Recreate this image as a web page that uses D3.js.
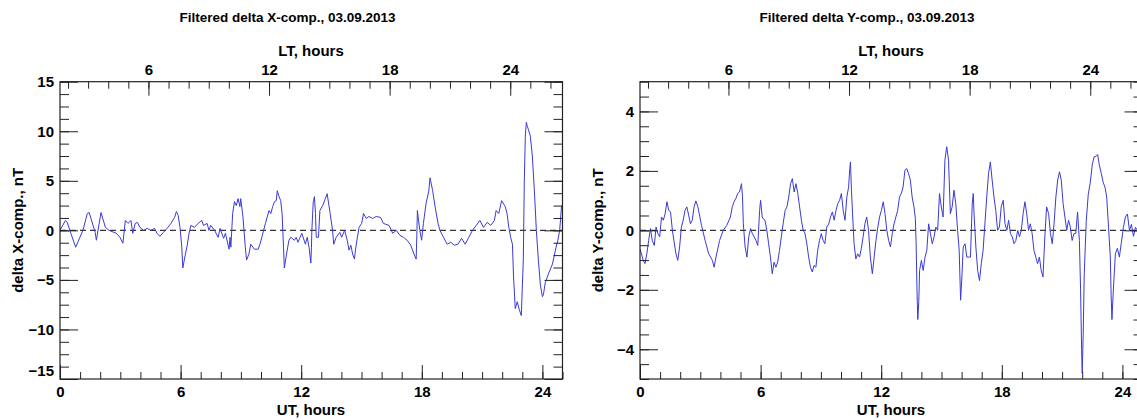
<!DOCTYPE html>
<html>
<head>
<meta charset="utf-8">
<script src="https://cdn.jsdelivr.net/npm/d3@7"></script>
<style>
  body { margin: 0; background: #fff; }
  text { font-family: Arial, "Liberation Sans", sans-serif; font-weight: bold; fill: #000; }
</style>
</head>
<body>
<svg id="chart"></svg>
<script>
  // Filtered delta X-component, [UT hour, nT]
  const xCompSamples = [[0,0],[0.27,1.0],[0.36,0.8],[0.54,-0.3],[0.78,-1.7],[0.99,-0.7],[1.14,0],[1.36,1.7],[1.45,1.8],[1.75,-0.2],[1.81,-1.0],[2.04,1.8],[2.26,0.3],[2.44,0],[2.8,-0.3],[2.98,-0.7],[3.13,-1.3],[3.25,1.0],[3.38,0.7],[3.53,1.0],[3.62,-0.3],[3.74,0.7],[3.85,0.8],[3.98,0.3],[4.16,0],[4.34,0.2],[4.52,0],[4.7,0.2],[4.83,-0.3],[4.97,-0.6],[5.15,-0.2],[5.33,0.2],[5.52,0.7],[5.7,1.3],[5.79,1.9],[5.88,1.5],[5.97,0.3],[6.06,-1.7],[6.11,-3.8],[6.24,-2.4],[6.33,-1.5],[6.42,-0.3],[6.51,0.5],[6.69,0.3],[6.87,0.7],[7.05,1.0],[7.14,0.5],[7.32,0.7],[7.41,0],[7.5,0.5],[7.69,0],[7.87,-0.7],[7.96,0.2],[8.14,-0.8],[8.23,-0.3],[8.41,-1.9],[8.46,-0.7],[8.5,-1.7],[8.59,1.7],[8.68,2.9],[8.77,2.5],[8.86,3.2],[8.95,2.4],[8.99,3.2],[9.1,1.4],[9.22,-1.7],[9.28,-3.0],[9.4,-2.4],[9.49,-1.4],[9.67,-1.9],[9.86,-1.9],[9.95,-1.4],[10.04,-0.7],[10.13,0],[10.22,0.7],[10.4,2.0],[10.49,1.7],[10.58,2.4],[10.67,2.9],[10.76,3.0],[10.81,4.0],[10.9,3.4],[10.98,3.0],[11.05,1.7],[11.12,-1.7],[11.16,-3.8],[11.27,-2.4],[11.39,-1.0],[11.48,-0.7],[11.66,-1.0],[11.75,-0.7],[11.84,-1.2],[12.03,-0.3],[12.21,-1.4],[12.3,-0.7],[12.39,-1.7],[12.48,-3.3],[12.51,-1.7],[12.53,0],[12.6,2.9],[12.66,3.4],[12.71,1.7],[12.75,-0.7],[12.86,-0.7],[12.93,2.0],[13.07,2.5],[13.2,3.2],[13.29,3.7],[13.44,1.7],[13.56,0],[13.62,-1.4],[13.74,-0.7],[13.92,-0.2],[14.01,-0.7],[14.16,0],[14.29,-1.0],[14.38,-2.0],[14.47,-1.5],[14.56,-2.4],[14.65,-2.9],[14.7,-2.0],[14.77,-1.0],[14.88,0.3],[15.01,0.7],[15.1,1.7],[15.24,1.2],[15.37,1.4],[15.55,1.2],[15.73,1.4],[15.95,1.3],[16.09,0.7],[16.37,0.5],[16.55,-0.3],[16.73,0],[16.91,-0.5],[17.09,-0.7],[17.27,-1.0],[17.45,-1.5],[17.63,-2.5],[17.72,-2.9],[17.76,0],[17.78,2.0],[17.9,0],[17.99,-1.0],[18.08,0.7],[18.21,2.7],[18.35,4.0],[18.41,5.3],[18.44,5.0],[18.54,4.0],[18.66,2.4],[18.81,0.7],[18.9,0],[19.08,-0.7],[19.26,-1.4],[19.44,-1.2],[19.62,-1.5],[19.8,-1.4],[19.98,-0.8],[20.16,-1.4],[20.34,-0.7],[20.52,0],[20.71,0.5],[20.89,1.0],[21.07,0.3],[21.25,0.8],[21.43,0.5],[21.61,1.0],[21.7,2.0],[21.83,1.7],[21.97,3.0],[22.15,2.4],[22.24,1.7],[22.33,0.3],[22.42,-0.7],[22.51,-1.4],[22.56,-4.5],[22.65,-7.9],[22.75,-7.2],[22.85,-8.0],[22.95,-8.6],[23.05,-3.0],[23.1,5.0],[23.15,9.5],[23.2,10.9],[23.25,10.5],[23.3,10.2],[23.4,9.5],[23.5,7.5],[23.6,4.0],[23.7,0],[23.8,-3.0],[23.9,-5.5],[24.0,-6.7],[24.05,-6.5],[24.14,-5.3],[24.3,-4.4],[24.5,-3.4],[24.68,-1.7],[24.77,-1.0],[24.86,0],[24.95,2.4],[25.0,2.6]];

  // Filtered delta Y-component, [UT hour, nT]
  const yCompSamples = [[0,-0.62],[0.07,-0.79],[0.16,-1.01],[0.25,-1.12],[0.34,-0.79],[0.43,-0.34],[0.52,0.06],[0.61,-0.34],[0.71,-0.51],[0.8,0.11],[0.89,-0.11],[0.98,-0.22],[1.07,0.45],[1.16,0.34],[1.25,0.56],[1.34,0.96],[1.43,0.67],[1.52,0.62],[1.61,0],[1.79,-0.79],[1.88,-1.01],[1.97,-0.56],[2.06,0.11],[2.15,0.34],[2.24,0.67],[2.33,0.79],[2.42,0.51],[2.51,0.22],[2.6,0.34],[2.69,0.79],[2.78,0.99],[2.88,0.79],[3.06,0.17],[3.24,-0.34],[3.42,-0.79],[3.6,-1.01],[3.69,-1.24],[3.78,-0.9],[3.96,-0.34],[4.14,0],[4.32,0.17],[4.5,0.45],[4.59,0.79],[4.68,0.96],[4.77,1.07],[4.86,1.24],[4.95,1.29],[5.05,1.57],[5.1,1.12],[5.14,0.22],[5.23,-0.56],[5.32,-0.9],[5.41,-0.22],[5.5,0.06],[5.59,-0.11],[5.68,-0.22],[5.77,-0.34],[5.86,-0.51],[5.95,0.67],[6.0,1.01],[6.08,0.45],[6.13,0.39],[6.22,0.34],[6.31,0],[6.4,-0.45],[6.49,-0.9],[6.58,-1.46],[6.67,-1.07],[6.76,-1.24],[6.85,-1.07],[6.94,-0.67],[7.03,-0.22],[7.12,0.22],[7.22,0.67],[7.31,0.79],[7.4,1.12],[7.49,1.57],[7.58,1.74],[7.67,1.29],[7.76,1.57],[7.85,1.24],[7.94,0.79],[8.03,0.34],[8.12,0],[8.21,-0.11],[8.3,-0.45],[8.39,-0.9],[8.48,-1.24],[8.57,-1.4],[8.66,-1.18],[8.75,-1.24],[8.84,-0.67],[8.93,-0.34],[9.02,-0.11],[9.11,-0.34],[9.2,-0.45],[9.29,0.11],[9.39,0.22],[9.48,0.45],[9.57,0.62],[9.66,0.34],[9.75,0.67],[9.84,0.9],[9.93,1.01],[10.02,1.24],[10.11,0.67],[10.2,0.34],[10.29,1.12],[10.38,1.46],[10.43,2.02],[10.47,2.3],[10.52,1.35],[10.6,0.22],[10.65,-0.45],[10.74,-0.96],[10.83,-0.79],[10.92,-0.9],[11.01,-0.62],[11.1,-0.22],[11.19,0.22],[11.28,0.45],[11.37,0],[11.46,-0.9],[11.56,-1.46],[11.65,-0.9],[11.74,-0.34],[11.83,0.11],[11.92,0.45],[12.01,0.67],[12.1,0.96],[12.19,0.56],[12.28,0],[12.37,-0.34],[12.46,-0.56],[12.55,-0.11],[12.64,0.22],[12.73,0.45],[12.82,0.67],[12.91,1.12],[13.0,1.24],[13.09,1.46],[13.18,2.02],[13.27,2.08],[13.36,1.91],[13.45,1.69],[13.54,1.12],[13.63,0.79],[13.7,0.4],[13.74,-0.5],[13.78,-2.0],[13.82,-3.0],[13.87,-2.4],[13.91,-1.35],[14.0,-1.01],[14.09,-1.35],[14.18,-0.9],[14.27,-0.67],[14.36,0.22],[14.45,-0.11],[14.54,-0.45],[14.63,-0.22],[14.72,0.11],[14.81,0],[14.9,1.24],[14.99,0.79],[15.08,0.45],[15.17,2.36],[15.26,2.81],[15.35,2.36],[15.44,0.56],[15.53,0.79],[15.62,1.35],[15.71,0.9],[15.8,0],[15.88,-0.67],[15.95,-2.35],[16.02,-1.5],[16.08,-0.56],[16.17,-0.45],[16.26,-0.9],[16.35,-0.9],[16.44,-0.9],[16.53,0.9],[16.58,1.24],[16.62,0.56],[16.71,-0.56],[16.8,-1.35],[16.89,-1.69],[16.98,-1.12],[17.07,-0.67],[17.16,0.22],[17.25,1.12],[17.34,1.91],[17.43,2.3],[17.52,1.69],[17.61,1.12],[17.7,0.67],[17.79,0],[17.88,0.11],[17.97,0.79],[18.07,1.01],[18.16,0.22],[18.25,0],[18.34,0.34],[18.43,-0.11],[18.52,-0.22],[18.61,-0.45],[18.7,-0.34],[18.79,0],[18.88,-0.22],[18.97,0],[19.06,0.56],[19.15,0.96],[19.24,0.56],[19.33,0],[19.42,0.22],[19.51,-0.11],[19.6,-0.67],[19.69,-0.9],[19.78,-1.12],[19.87,-0.9],[19.96,-1.35],[20.05,-1.57],[20.14,-0.22],[20.23,0.79],[20.33,0.56],[20.42,-0.11],[20.51,-0.45],[20.6,0.22],[20.69,1.12],[20.78,1.69],[20.87,1.97],[20.96,1.69],[21.05,0.9],[21.14,0.45],[21.23,0],[21.32,0.34],[21.41,0.11],[21.5,-0.34],[21.59,-0.11],[21.68,-0.11],[21.77,0.62],[21.86,-0.34],[21.92,-2.0],[21.97,-4.0],[22.0,-4.8],[22.05,-3.5],[22.1,-1.5],[22.2,0.3],[22.3,1.2],[22.4,1.6],[22.5,2.2],[22.59,2.47],[22.7,2.5],[22.77,2.55],[22.85,2.2],[22.95,1.91],[23.05,1.6],[23.13,1.46],[23.22,1.12],[23.31,0.11],[23.4,-0.9],[23.44,-2.2],[23.48,-3.0],[23.55,-2.0],[23.65,-0.8],[23.75,-0.6],[23.85,-0.9],[23.95,-0.4],[24.05,0.1],[24.15,0.45],[24.25,0.55],[24.35,0.0],[24.45,0.2],[24.55,-0.2],[24.65,0.1],[24.75,0],[24.85,-0.3],[24.95,0]];

  // Axis ticks
  const utTicks = [0, 6, 12, 18, 24];
  const utMinor = d3.range(0, 26, 1);
  const ltTicks = [6, 12, 18, 24];
  const ltMinor = d3.range(2, 27, 1);
  const ltOffset = 1.6;   // LT = UT + 1.6 h
  const xCompTicks = [-15, -10, -5, 0, 5, 10, 15];
  const xCompMinor = d3.range(-15, 15.01, 1.25);
  const yCompTicks = [-4, -2, 0, 2, 4];
  const yCompMinor = d3.range(-5, 5.01, 0.5);

  const width = 1137, height = 420;
  const svg = d3.select("#chart").attr("width", width).attr("height", height);

  function drawPanel(p) {
    const top = 81.7, bottom = 379;
    const x = d3.scaleLinear().domain([0, 25]).range([p.left, p.left + 502.5]);
    const lt = d3.scaleLinear().domain([ltOffset, 25 + ltOffset]).range(x.range());
    const y = d3.scaleLinear().domain(p.domain).range([bottom, top]);
    const g = svg.append("g");
    const axisStyle = sel => sel.attr("font-family", null).attr("font-size", 15).attr("color", "#222");

    // clip for trace
    const clipId = "clip" + p.left;
    svg.append("clipPath").attr("id", clipId).append("rect")
      .attr("x", p.left).attr("y", top).attr("width", 502.5).attr("height", bottom - top);

    // zero line
    g.append("line")
      .attr("x1", x(0)).attr("x2", x(25)).attr("y1", y(0)).attr("y2", y(0))
      .attr("stroke", "#333").attr("stroke-width", 1.2).attr("stroke-dasharray", "6,4");

    // trace
    g.append("path")
      .datum(p.samples)
      .attr("clip-path", `url(#${clipId})`)
      .attr("fill", "none")
      .attr("stroke", "#3a3ad6")
      .attr("stroke-width", 1)
      .attr("d", d3.line().x(d => x(d[0])).y(d => y(d[1])));

    // bottom UT axis
    g.append("g").attr("transform", `translate(0,${bottom})`)
      .call(d3.axisBottom(x).tickValues(utMinor).tickSizeInner(-7).tickSizeOuter(0).tickFormat(""))
      .call(s => s.select(".domain").remove()).call(axisStyle);
    g.append("g").attr("transform", `translate(0,${bottom})`)
      .call(d3.axisBottom(x).tickValues(utTicks).tickSizeInner(-14).tickSizeOuter(0).tickPadding(7).tickFormat(d3.format("d")))
      .call(s => s.select(".domain").remove()).call(axisStyle);

    // top LT axis
    g.append("g").attr("transform", `translate(0,${top})`)
      .call(d3.axisTop(lt).tickValues(ltMinor).tickSizeInner(-7).tickSizeOuter(0).tickFormat(""))
      .call(s => s.select(".domain").remove()).call(axisStyle);
    g.append("g").attr("transform", `translate(0,${top})`)
      .call(d3.axisTop(lt).tickValues(ltTicks).tickSizeInner(-14).tickSizeOuter(0).tickPadding(7).tickFormat(d3.format("d")))
      .call(s => s.select(".domain").remove()).call(axisStyle);

    // left / right value axes
    [[d3.axisLeft, p.left], [d3.axisRight, p.left + 502.5]].forEach(([axisFn, pos], i) => {
      g.append("g").attr("transform", `translate(${pos},0)`)
        .call(axisFn(y).tickValues(p.minor).tickSizeInner(-9).tickSizeOuter(0).tickFormat(""))
        .call(s => s.select(".domain").remove()).call(axisStyle);
      const major = g.append("g").attr("transform", `translate(${pos},0)`)
        .call(axisFn(y).tickValues(p.ticks).tickSizeInner(-18).tickSizeOuter(0).tickPadding(6)
          .tickFormat(i === 0 ? d3.format("d") : ""))
        .call(s => s.select(".domain").remove()).call(axisStyle);
      // lowest label sits a little higher, clear of the UT labels
      major.selectAll(".tick text").filter(d => d === p.domain[0]).attr("y", -8);
    });

    // frame
    g.append("rect")
      .attr("x", p.left).attr("y", top).attr("width", 502.5).attr("height", bottom - top)
      .attr("fill", "none").attr("stroke", "#222").attr("stroke-width", 1.2);

    // titles
    const cx = p.left + 251;
    svg.append("text").attr("x", p.titleX).attr("y", 22).attr("text-anchor", "middle")
      .attr("font-size", 13.5).text(p.title);
    svg.append("text").attr("x", cx).attr("y", 56).attr("text-anchor", "middle")
      .attr("font-size", 15).text("LT, hours");
    svg.append("text").attr("x", cx).attr("y", 415).attr("text-anchor", "middle")
      .attr("font-size", 15).text("UT, hours");
    svg.append("text")
      .attr("transform", `translate(${p.left - 37},${(top + bottom) / 2}) rotate(-90)`)
      .attr("text-anchor", "middle").attr("font-size", 15).text(p.yLabel);
  }

  drawPanel({
    left: 60, samples: xCompSamples, domain: [-15, 15],
    ticks: xCompTicks, minor: xCompMinor,
    title: "Filtered delta X-comp., 03.09.2013", titleX: 287.5,
    yLabel: "delta X-comp., nT"
  });
  drawPanel({
    left: 640, samples: yCompSamples, domain: [-5, 5],
    ticks: yCompTicks, minor: yCompMinor,
    title: "Filtered delta Y-comp., 03.09.2013", titleX: 867,
    yLabel: "delta Y-comp., nT"
  });
</script>
</body>
</html>
